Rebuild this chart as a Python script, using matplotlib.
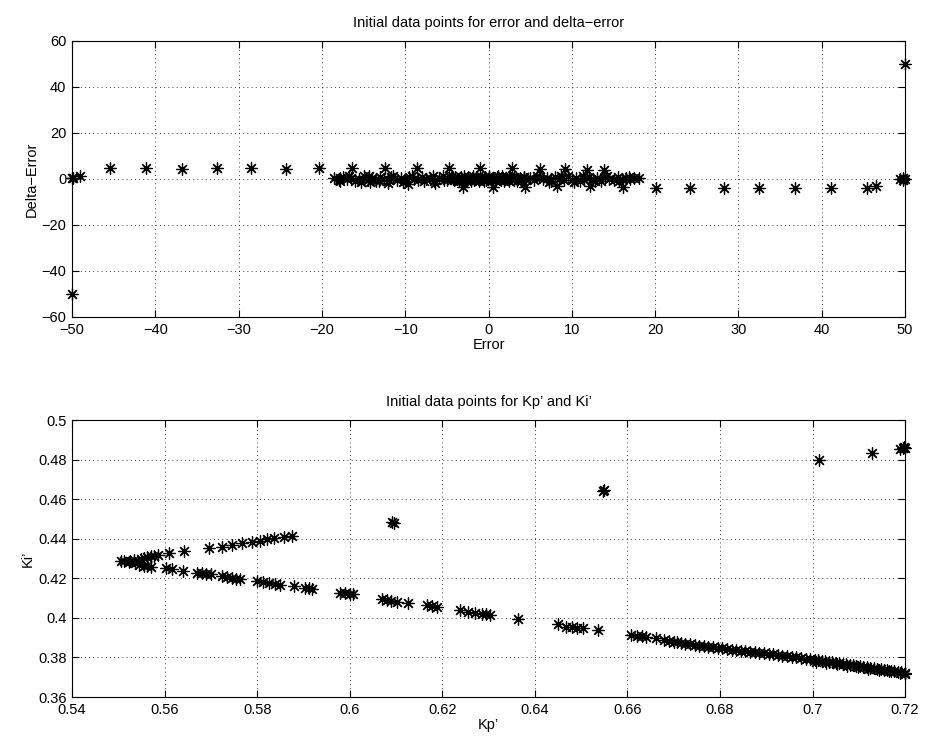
import matplotlib
matplotlib.use("Agg")
import matplotlib.pyplot as plt
import numpy as np

plt.rcParams['font.family'] = ['Liberation Sans', 'DejaVu Sans']
plt.rcParams['axes.unicode_minus'] = True

# ---------------- Top chart data: error vs delta-error ----------------
err_far = [-50.0, -50.0, -49.9, -49.0, 49.4, 49.8, 50.0, 49.7, 50.0]
derr_far = [-50.0, 0.3, 0.6, 1.5, 0.2, 0.5, 0.0, -0.3, 50.0]

err_rows = [-45.5, -41.1, -36.8, -32.6, -28.5, -24.3, -20.3,
            20.1, 24.2, 28.3, 32.5, 36.8, 41.1, 45.4, 46.5]
derr_rows = [4.6, 4.6, 4.5, 4.6, 4.6, 4.5, 4.6,
             -4.0, -4.0, -4.1, -4.0, -4.0, -4.1, -4.0, -3.2]

err_out = [-16.4, -12.4, -8.6, -4.8, -1.0, 2.8, 6.2, 9.2, 11.8, 13.8,
           -12.1, -9.7, -6.4, -3.1, 0.5, 4.4, 8.2, 12.2, -14.2, 16.1, -17.8]
derr_out = [4.6, 4.6, 4.6, 4.6, 4.6, 4.6, 4.2, 4.2, 3.8, 3.8,
            -1.8, -2.3, -1.8, -3.5, -3.5, -3.5, -3.2, -3.2, -1.5, -3.5, 0.5]

err_band_l = [-18.5, -18.0, -17.5, -17.0, -16.5, -16.0, -15.5, -15.0, -14.5, -14.0,
              -13.5, -13.0, -12.5, -12.0, -11.5, -11.0, -10.5, -10.0, -9.5, -9.0,
              -8.5, -8.0, -7.5, -7.0, -6.5, -6.0, -5.5, -5.0,
              -17.8, -16.7, -15.3, -14.3, -13.1, -11.7, -10.3, -9.2, -7.8, -6.7, -5.3]
derr_band_l = [0.3, -0.5, 0.8, -0.2, 0.6, -0.9, 0.2, 1.1, -0.4, 0.5,
               -1.0, 0.7, 0.0, -0.6, 1.2, -0.3, 0.4, -0.8, 0.9, 0.1,
               -0.5, 1.0, -0.2, 0.6, -0.7, 0.3, 1.1, -0.4,
               -0.8, 1.3, -1.1, 1.4, -0.7, 1.0, -1.2, 1.3, -0.9, 1.2, -0.6]

err_core = [-4.5, -4.25, -4.0, -3.75, -3.5, -3.25, -3.0, -2.75, -2.5, -2.25,
            -2.0, -1.75, -1.5, -1.25, -1.0, -0.75, -0.5, -0.25, 0.0, 0.25,
            0.5, 0.75, 1.0, 1.25, 1.5, 1.75, 2.0, 2.25, 2.5, 2.75,
            3.0, 3.25, 3.5, 3.75, 4.0, 4.25, 4.5,
            -4.4, -3.6, -2.9, -2.1, -1.4, -0.6, 0.1, 0.9, 1.6, 2.4, 3.1, 3.9,
            -4.1, -3.3, -2.6, -1.9, -1.1, -0.4, 0.4, 1.1, 1.9, 2.6, 3.4, 4.2]
derr_core = [0.5, -0.2, 0.8, 0.1, -0.4, 0.6, 0.2, -0.3, 0.9, 0.0,
             0.4, -0.5, 0.7, 0.1, -0.2, 0.6, 0.3, -0.4, 0.8, 0.0,
             0.5, -0.3, 0.7, 0.2, -0.4, 0.6, 0.1, -0.2, 0.8, 0.3,
             -0.4, 0.6, 0.0, 0.5, -0.3, 0.7, 0.2,
             1.1, -0.8, 1.2, -0.7, 1.0, -0.9, 1.2, -0.6, 1.1, -0.8, 1.0, -0.7,
             -0.6, 1.0, -0.7, 1.1, -0.8, 0.9, -0.6, 1.1, -0.7, 1.0, -0.8, 0.9]

err_band_r = [5.0, 5.5, 6.0, 6.5, 7.0, 7.5, 8.0, 8.5, 9.0, 9.5,
              10.0, 10.5, 11.0, 11.5, 12.0, 12.5, 13.0, 13.5, 14.0, 14.5,
              15.0, 15.5, 16.0, 16.5, 17.0, 17.5, 18.0,
              5.8, 7.2, 8.7, 10.2, 11.3, 12.8, 14.2, 15.7, 16.8]
derr_band_r = [0.4, -0.6, 0.9, -0.2, 0.5, -1.0, 0.7, 0.1, -0.5, 1.1,
               -0.3, 0.6, -0.8, 0.2, 1.0, -0.4, 0.3, -0.7, 0.8, 0.0,
               -0.5, 0.9, -0.2, 0.5, 0.1, 0.6, 0.3,
               1.3, -1.1, 1.2, -1.2, 1.3, -0.9, 1.2, -1.0, 0.9]

# ---------------- Bottom chart data: Kp' vs Ki' ----------------
kp_upper = [0.5506, 0.5512, 0.5525, 0.5534, 0.5549, 0.5556, 0.5563, 0.5570, 0.5577,
            0.5585, 0.5610, 0.5642, 0.5696, 0.5725, 0.5746, 0.5768, 0.5789,
            0.5807, 0.5822, 0.5836, 0.5858, 0.5876]
ki_upper = [0.4287, 0.4286, 0.4289, 0.4292, 0.4300, 0.4305, 0.4310, 0.4312, 0.4315,
            0.4317, 0.4326, 0.4338, 0.4351, 0.4360, 0.4368, 0.4380, 0.4385,
            0.4390, 0.4397, 0.4402, 0.4410, 0.4415]

kp_lower = [0.5523, 0.5535, 0.5545, 0.5555, 0.5562, 0.5570, 0.5603, 0.5617, 0.5639,
            0.5671, 0.5680, 0.5690, 0.5700, 0.5725, 0.5735, 0.5745, 0.5755, 0.5764,
            0.5800, 0.5812, 0.5825, 0.5838, 0.5850, 0.5879, 0.5904, 0.5912, 0.5919,
            0.5980, 0.5990, 0.6000, 0.6008, 0.6070, 0.6080, 0.6090, 0.6102, 0.6127,
            0.6167, 0.6178, 0.6188, 0.6238, 0.6255, 0.6270, 0.6285, 0.6295, 0.6303,
            0.6363, 0.6450, 0.6468, 0.6480, 0.6492, 0.6504, 0.6536, 0.6608, 0.6620,
            0.6632, 0.6641, 0.6662, 0.6680, 0.6690, 0.6700, 0.6708, 0.6716]
ki_lower = [0.4284, 0.4275, 0.4268, 0.4262, 0.4260, 0.4258, 0.4250, 0.4245, 0.4238,
            0.4228, 0.4226, 0.4223, 0.4221, 0.4211, 0.4206, 0.4202, 0.4198, 0.4195,
            0.4188, 0.4182, 0.4176, 0.4170, 0.4166, 0.4161, 0.4149, 0.4149, 0.4147,
            0.4124, 0.4124, 0.4122, 0.4121, 0.4093, 0.4090, 0.4086, 0.4081, 0.4073,
            0.4065, 0.4061, 0.4056, 0.4039, 0.4031, 0.4026, 0.4022, 0.4018, 0.4014,
            0.3994, 0.3967, 0.3955, 0.3952, 0.3950, 0.3947, 0.3938, 0.3913, 0.3910,
            0.3908, 0.3905, 0.3896, 0.3888, 0.3884, 0.3880, 0.3876, 0.3871]

kp_out = [0.6091, 0.6095, 0.6547, 0.6550, 0.7013, 0.7128, 0.7190, 0.7195, 0.7198, 0.7200]
ki_out = [0.4486, 0.4482, 0.4640, 0.4645, 0.4798, 0.4835, 0.4855, 0.4860, 0.4865, 0.4858]

kp_tail = [0.6725, 0.6735, 0.6745, 0.6755, 0.6765, 0.6775, 0.6785, 0.6795, 0.6805, 0.6815,
           0.6825, 0.6835, 0.6845, 0.6855, 0.6865, 0.6875, 0.6885, 0.6895, 0.6905, 0.6915,
           0.6925, 0.6935, 0.6945, 0.6955, 0.6965, 0.6975, 0.6985, 0.6995, 0.7005, 0.7012,
           0.7020, 0.7027, 0.7035, 0.7042, 0.7050, 0.7057, 0.7065, 0.7072, 0.7080, 0.7087,
           0.7095, 0.7102, 0.7110, 0.7117, 0.7125, 0.7132, 0.7140, 0.7147, 0.7155, 0.7162,
           0.7170, 0.7177, 0.7185, 0.7192, 0.7200,
           0.7008, 0.7030, 0.7053, 0.7075, 0.7098, 0.7120, 0.7143, 0.7165, 0.7188, 0.7200]
ki_tail = [0.3869, 0.3866, 0.3864, 0.3860, 0.3858, 0.3854, 0.3852, 0.3848, 0.3846, 0.3842,
           0.3840, 0.3837, 0.3834, 0.3831, 0.3829, 0.3826, 0.3823, 0.3820, 0.3818, 0.3815,
           0.3812, 0.3809, 0.3806, 0.3803, 0.3800, 0.3797, 0.3794, 0.3791, 0.3788, 0.3785,
           0.3782, 0.3780, 0.3777, 0.3775, 0.3772, 0.3770, 0.3767, 0.3765, 0.3762, 0.3760,
           0.3757, 0.3755, 0.3752, 0.3750, 0.3747, 0.3745, 0.3742, 0.3740, 0.3737, 0.3735,
           0.3732, 0.3730, 0.3727, 0.3725, 0.3722,
           0.3779, 0.3773, 0.3765, 0.3758, 0.3751, 0.3744, 0.3737, 0.3730, 0.3722, 0.3714]

top_xticks = [-50, -40, -30, -20, -10, 0, 10, 20, 30, 40, 50]
top_yticks = [-60, -40, -20, 0, 20, 40, 60]
bot_xticks = [0.54, 0.56, 0.58, 0.6, 0.62, 0.64, 0.66, 0.68, 0.7, 0.72]
bot_xlabels = ['0.54', '0.56', '0.58', '0.6', '0.62', '0.64', '0.66', '0.68', '0.7', '0.72']
bot_yticks = [0.36, 0.38, 0.4, 0.42, 0.44, 0.46, 0.48, 0.5]
bot_ylabels = ['0.36', '0.38', '0.4', '0.42', '0.44', '0.46', '0.48', '0.5']

fig = plt.figure(figsize=(9.26, 7.49), dpi=100)
ax1 = fig.add_axes([0.0778, 0.5768, 0.8996, 0.3685])
ax2 = fig.add_axes([0.0778, 0.0694, 0.8996, 0.3698])

mk = dict(marker=(8, 2, 0), s=70, c='black', linewidths=0.9, zorder=3, clip_on=False)
FS = 10.5

def style(ax):
    ax.grid(True, color='black', linestyle=(0, (1, 4)), linewidth=0.6)
    ax.set_axisbelow(True)
    ax.tick_params(direction='in', top=True, right=True, length=5, width=0.8,
                   labelsize=FS, pad=4)
    for s in ax.spines.values():
        s.set_linewidth(0.8)

for xs, ys in [(err_far, derr_far), (err_rows, derr_rows), (err_out, derr_out),
               (err_band_l, derr_band_l), (err_core, derr_core), (err_band_r, derr_band_r)]:
    ax1.scatter(xs, ys, **mk)
ax1.set_xlim(-50, 50)
ax1.set_ylim(-60, 60)
ax1.set_xticks(top_xticks)
ax1.set_yticks(top_yticks)
style(ax1)
ax1.set_title('Initial data points for error and delta\u2212error', fontsize=FS, pad=10)
ax1.set_xlabel('Error', fontsize=FS, labelpad=1)
ax1.set_ylabel('Delta\u2212Error', fontsize=FS, labelpad=2)

for xs, ys in [(kp_upper, ki_upper), (kp_lower, ki_lower), (kp_out, ki_out), (kp_tail, ki_tail)]:
    ax2.scatter(xs, ys, **mk)
ax2.set_xlim(0.54, 0.72)
ax2.set_ylim(0.36, 0.5)
ax2.set_xticks(bot_xticks)
ax2.set_xticklabels(bot_xlabels)
ax2.set_yticks(bot_yticks)
ax2.set_yticklabels(bot_ylabels)
style(ax2)
ax2.set_title('Initial data points for Kp\u2019 and Ki\u2019', fontsize=FS, pad=10)
ax2.set_xlabel('Kp\u2019', fontsize=FS, labelpad=1)
ax2.set_ylabel('Ki\u2019', fontsize=FS, labelpad=2)

fig.savefig('out.png', dpi=100)
